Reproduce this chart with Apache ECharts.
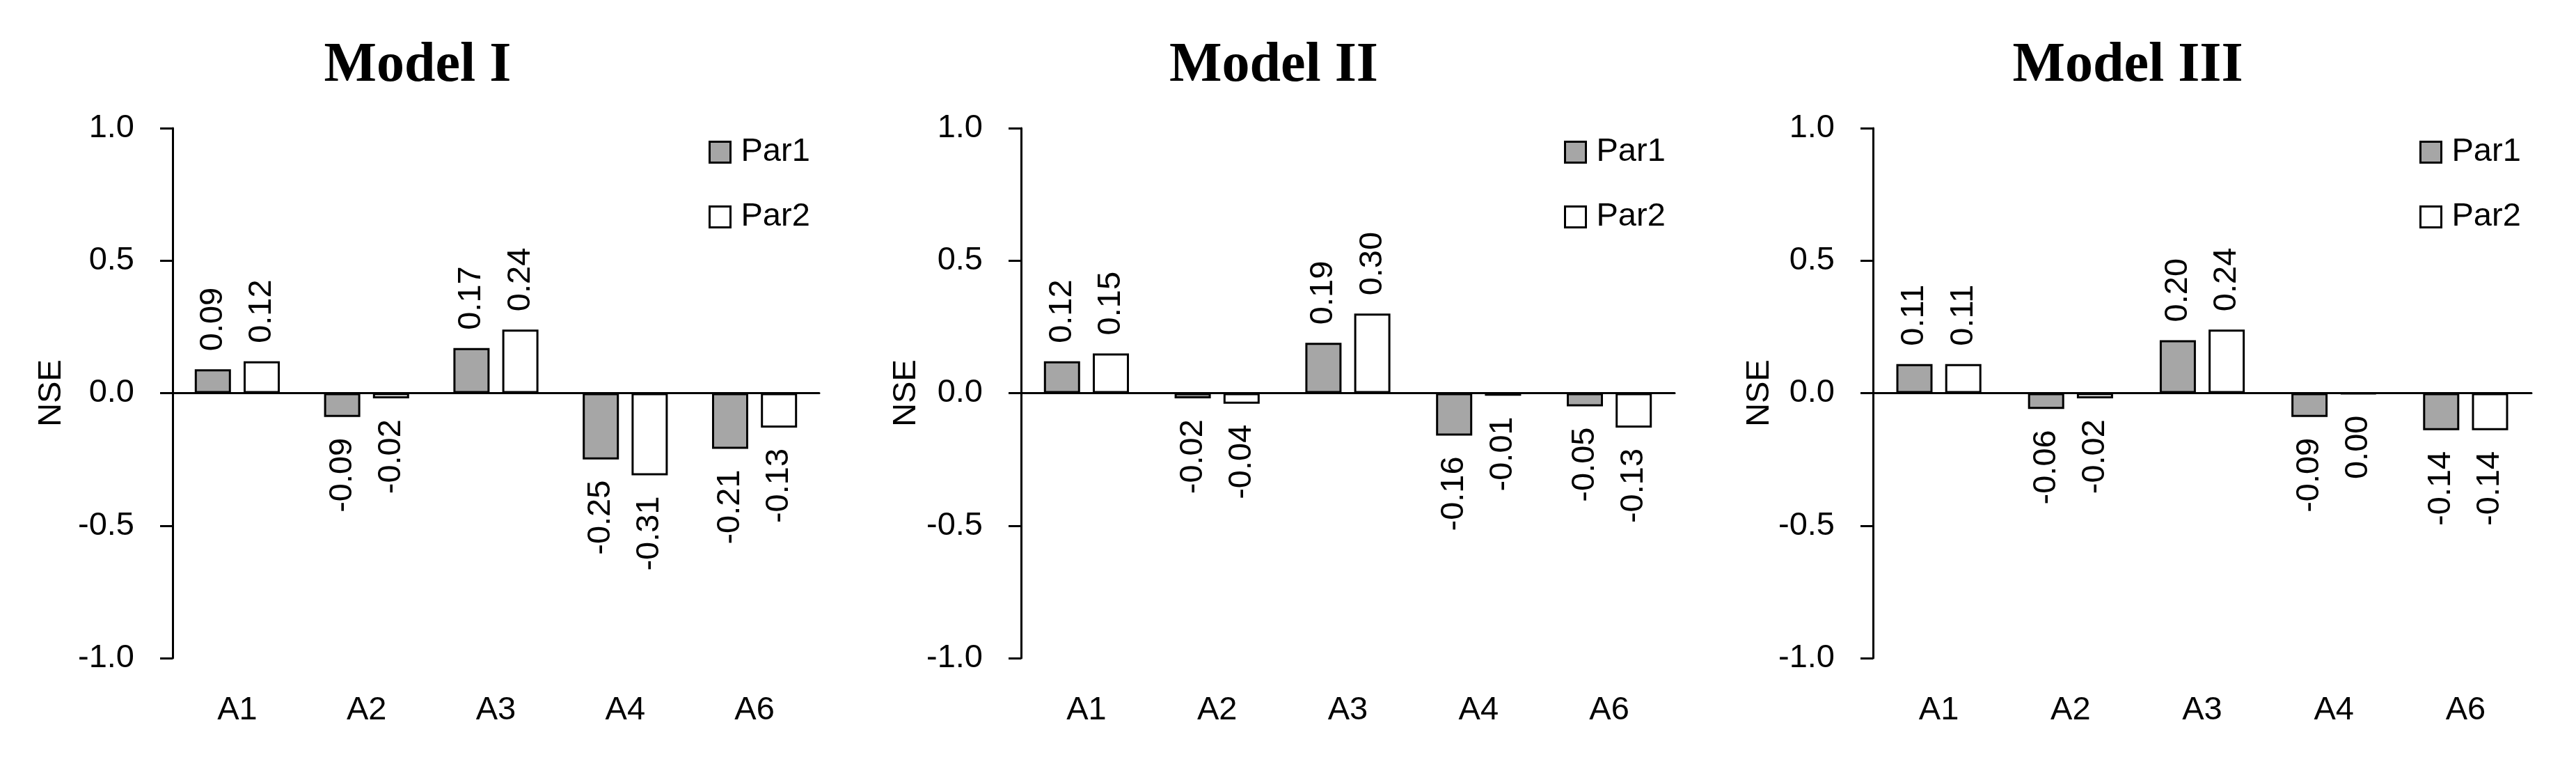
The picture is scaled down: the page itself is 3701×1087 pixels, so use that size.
<!DOCTYPE html>
<html>
<head>
<meta charset="utf-8">
<script src="https://cdn.jsdelivr.net/npm/echarts@6/dist/echarts.min.js"></script>
<style>
html,body{margin:0;padding:0;background:#fff;}
#c{width:3701px;height:1087px;}
</style>
</head>
<body>
<div id="c"></div>
<script>
const categories = ['A1', 'A2', 'A3', 'A4', 'A6'];
const seriesNames = ['Par1', 'Par2'];
const panelTitles = ['Model I', 'Model II', 'Model III'];
const yTicks = [-1.0, -0.5, 0.0, 0.5, 1.0];

const modelI_par1 = [0.09, -0.09, 0.17, -0.25, -0.21];
const modelI_par2 = [0.12, -0.02, 0.24, -0.31, -0.13];
const modelII_par1 = [0.12, -0.02, 0.19, -0.16, -0.05];
const modelII_par2 = [0.15, -0.04, 0.30, -0.01, -0.13];
const modelIII_par1 = [0.11, -0.06, 0.20, -0.09, -0.14];
const modelIII_par2 = [0.11, -0.02, 0.24, -0.003, -0.14];

const panelData = [
  [modelI_par1, modelI_par2],
  [modelII_par1, modelII_par2],
  [modelIII_par1, modelIII_par2]
];

const FONT = '"Liberation Sans", Arial, sans-serif';
const FS = 47;
const grids = [
  {left: 248, width: 929},
  {left: 1467, width: 939},
  {left: 2691, width: 946}
];
const titleX = [600, 1830, 3057];
const nameGaps = [150, 141, 136];
const legendLeft = [1018, 2247, 3476];

const fills = ['#a6a6a6', '#ffffff'];

const option = {
  animation: false,
  backgroundColor: '#fff',
  grid: grids.map(g => ({left: g.left, width: g.width, top: 184, height: 761, outerBoundsMode: 'none', containLabel: false})),
  xAxis: [],
  yAxis: [],
  series: [],
  legend: [],
  graphic: []
};

grids.forEach((g, i) => {
  option.xAxis.push({
    type: 'category', gridIndex: i, data: categories,
    axisLine: {show: true, onZero: true, lineStyle: {color: '#000', width: 3}},
    axisTick: {show: false}, axisLabel: {show: false}, splitLine: {show: false}
  });
  option.xAxis.push({
    type: 'category', gridIndex: i, data: categories, position: 'bottom',
    axisLine: {show: false, onZero: false}, axisTick: {show: false}, splitLine: {show: false},
    axisLabel: {show: true, color: '#000', fontFamily: FONT, fontSize: FS, margin: 52}
  });
  option.yAxis.push({
    type: 'value', gridIndex: i, min: yTicks[0], max: yTicks[yTicks.length - 1], interval: 0.5,
    name: 'NSE', nameLocation: 'middle', nameRotate: 90, nameGap: nameGaps[i],
    nameTextStyle: {color: '#000', fontFamily: FONT, fontSize: FS},
    axisLine: {show: true, lineStyle: {color: '#000', width: 3}},
    axisTick: {show: true, inside: false, length: 18, lineStyle: {color: '#000', width: 3}},
    splitLine: {show: false},
    axisLabel: {color: '#000', fontFamily: FONT, fontSize: FS, margin: 55,
      formatter: v => v.toFixed(1)}
  });
  panelData[i].forEach((vals, s) => {
    option.series.push({
      type: 'bar', name: seriesNames[s],
      xAxisIndex: i * 2, yAxisIndex: i,
      barWidth: 52, barGap: '35%',
      itemStyle: {color: fills[s], borderColor: '#000', borderWidth: 3},
      label: {show: true, rotate: 90, color: '#000', fontFamily: FONT, fontSize: FS, verticalAlign: 'middle',
        formatter: p => { let t = Number(p.value).toFixed(2); if (t === '-0.00') t = '0.00'; return t; }},
      data: vals.map(v => ({
        value: v,
        label: v > 0
          ? {position: 'top', align: 'left', distance: 26}
          : {position: 'bottom', align: 'right', distance: 30}
      }))
    });
  });
  option.legend.push({
    left: legendLeft[i], top: 195, orient: 'vertical', padding: 0,
    itemWidth: 30, itemHeight: 30, itemGap: 46, icon: 'rect',
    data: seriesNames.map((n, s) => ({name: n, itemStyle: {color: fills[s], borderColor: '#000', borderWidth: 3}})),
    textStyle: {color: '#000', fontFamily: FONT, fontSize: FS, lineHeight: 34, padding: [0, 0, 0, 10]},
    selectedMode: false
  });
  option.graphic.push({
    type: 'text', x: titleX[i], y: 95,
    style: {text: panelTitles[i], fill: '#000', font: 'bold 80px "Liberation Serif", "Times New Roman", serif',
      align: 'center', verticalAlign: 'middle'}
  });
});

const chart = echarts.init(document.getElementById('c'), null, {renderer: 'canvas'});
chart.setOption(option);
</script>
</body>
</html>
